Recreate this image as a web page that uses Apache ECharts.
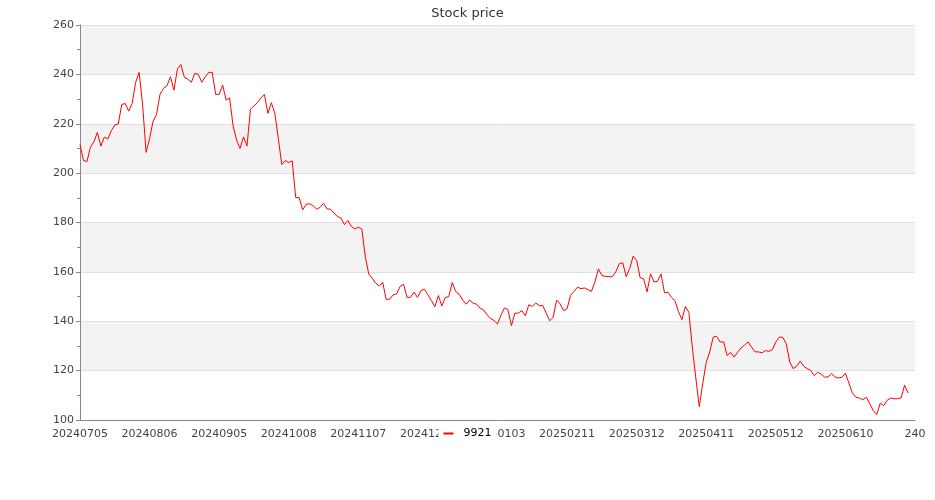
<!DOCTYPE html>
<html>
<head>
<meta charset="utf-8">
<script src="https://cdn.jsdelivr.net/npm/echarts@6/dist/echarts.min.js"></script>
<style>html,body{margin:0;padding:0;background:#fff}#c{width:935px;height:500px}</style>
</head>
<body>
<div id="c"></div>
<script>
const seriesName = '9921';
const tickLabels = ['20240705','20240806','20240905','20241008','20241107','20241205','20250103','20250211','20250312','20250411','20250512','20250610','240'];
const categoryCount = 241;
const prices = [
211.6,205.1,204.7,210.5,212.7,216.5,211,214.6,213.8,217.2,
219.5,219.9,227.8,228.2,225.1,228.2,236.8,240.8,227.6,208.4,
214,221,223.8,231.9,234.3,235.4,239,233.6,242.2,244,
238.8,238.1,236.8,240.4,240,236.8,239,240.8,240.8,231.9,
231.9,235.7,229.6,230.5,219.1,213.4,210,214.7,211,225.9,
227.2,228.6,230.5,231.9,224.2,228.5,224.2,214,203.5,205.1,
204.3,205,190.1,190.1,185.1,187.4,187.6,186.8,185.4,186.1,
187.8,185.5,185.4,183.8,182.4,181.8,179.1,180.8,178.4,177.4,
178.1,177.3,166.2,159.1,157.4,155.4,154.3,155.8,148.9,148.9,
150.7,151.1,154.1,155,149.7,149.7,151.8,149.7,152.4,153,
150.7,148.4,145.9,150.4,146.2,149.6,150,155.7,152,150.9,
148.6,146.9,148.6,147.3,146.9,145.3,144.6,142.6,141.2,140.3,
138.9,142.5,145.4,144.7,138.2,143.3,143.3,144.3,142.2,146.7,
146,147.4,146.3,146.4,143.3,140.2,141.6,148.6,147,144.3,
145.1,150.5,152.1,153.8,153.2,153.5,152.8,152.1,155.9,161.2,
158.5,158.2,158.1,158,160,163.3,163.7,158,161.4,166.4,
164.7,157.6,157.2,151.9,159.2,155.9,156.2,159.2,151.5,151.7,
149.7,148.3,144,140.6,146,143.6,129.5,117,105.4,114.9,
123.4,127.6,133.6,133.9,131.6,131.6,126.1,127.4,125.5,127.4,
129.2,130.3,131.6,129.6,127.6,127.6,127.2,128.1,127.8,128.5,
131.6,133.6,133.5,130.9,123.5,120.8,121.8,123.8,121.8,120.8,
120.1,118,119.3,118.6,117.4,117.4,118.8,117.4,117,117.3,
118.9,115,110.9,109.2,108.9,108.2,109.2,106.6,103.8,102.2,
106.8,105.8,108,108.9,108.6,108.6,108.9,114.1,110.9
];
const categories = Array.from({length: categoryCount}, (_, i) => String(i));
const labelStep = 20;

const chart = echarts.init(document.getElementById('c'), null, {renderer: 'canvas'});
chart.setOption({
  animation: false,
  textStyle: {fontFamily: 'DejaVu Sans'},
  title: {
    text: 'Stock price', left: 'center', top: 2,
    textStyle: {fontSize: 13, fontWeight: 'normal', color: '#333', fontFamily: 'DejaVu Sans'}
  },
  legend: {
    data: [seriesName], left: 'center', top: 423,
    backgroundColor: '#fff', padding: 5,
    icon: 'rect', itemWidth: 10, itemHeight: 2,
    textStyle: {color: '#000', fontSize: 11, fontFamily: 'DejaVu Sans', padding: [0, 0, 0, 5]}
  },
  grid: {left: 80, right: 20, top: 25, bottom: 80, containLabel: false},
  xAxis: {
    type: 'category', data: categories, boundaryGap: false,
    axisLine: {show: true, lineStyle: {color: '#888', width: 1}},
    axisTick: {show: false},
    axisLabel: {
      interval: labelStep - 1, color: '#444', fontSize: 11, margin: 9,
      fontFamily: 'DejaVu Sans',
      formatter: (v, idx) => tickLabels[Math.round(idx / labelStep)] || ''
    },
    splitLine: {show: false}
  },
  yAxis: {
    type: 'value', min: 100, max: 260, interval: 20,
    axisLine: {show: true, lineStyle: {color: '#888', width: 1}},
    axisTick: {show: true, length: 4, lineStyle: {color: '#888'}},
    minorTick: {show: true, splitNumber: 2, length: 3, lineStyle: {color: '#888'}},
    axisLabel: {color: '#444', fontSize: 11, margin: 6, fontFamily: 'DejaVu Sans'},
    splitLine: {show: true, lineStyle: {color: '#e0e0e0', width: 1}},
    splitArea: {show: true, areaStyle: {color: ['#ffffff', '#f3f3f3']}}
  },
  series: [{
    name: seriesName, type: 'line', data: prices,
    showSymbol: false, symbol: 'none',
    lineStyle: {color: '#ff0000', width: 1},
    itemStyle: {color: '#ff0000'}
  }]
});
</script>
</body>
</html>
